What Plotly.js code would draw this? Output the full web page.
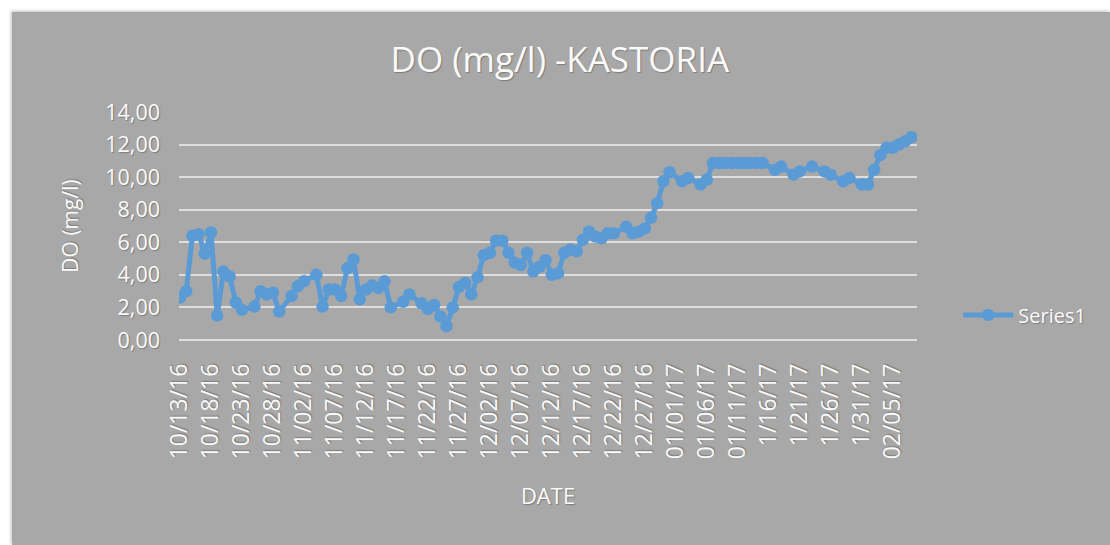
<!DOCTYPE html>
<html>
<head>
<meta charset="utf-8">
<script src="https://cdn.plot.ly/plotly-3.0.1.min.js"></script>
<style>
  html, body { margin: 0; padding: 0; background: #ffffff; width: 1110px; height: 545px; overflow: hidden; }
  #chart { position: absolute; left: 12px; top: 12px; width: 1098px; height: 533px; box-shadow: -1px -1px 3px rgba(0,0,0,0.25); }
</style>
</head>
<body>
<div id="chart"></div>
<script>
// Dates of measurements
const dates = [
  '2016-10-13','2016-10-14','2016-10-15','2016-10-16','2016-10-17','2016-10-18','2016-10-19','2016-10-20',
  '2016-10-21','2016-10-22','2016-10-23','2016-10-25','2016-10-26','2016-10-27','2016-10-28','2016-10-29',
  '2016-10-31','2016-11-01','2016-11-02','2016-11-04','2016-11-05','2016-11-06','2016-11-07','2016-11-08',
  '2016-11-09','2016-11-10','2016-11-11','2016-11-12','2016-11-13','2016-11-14','2016-11-15','2016-11-16',
  '2016-11-18','2016-11-19','2016-11-21','2016-11-22','2016-11-23','2016-11-24','2016-11-25','2016-11-26',
  '2016-11-27','2016-11-28','2016-11-29','2016-11-30','2016-12-01','2016-12-02','2016-12-03','2016-12-04',
  '2016-12-05','2016-12-06','2016-12-07','2016-12-08','2016-12-09','2016-12-10','2016-12-11','2016-12-12',
  '2016-12-13','2016-12-14','2016-12-15','2016-12-16','2016-12-17','2016-12-18','2016-12-19','2016-12-20',
  '2016-12-21','2016-12-22','2016-12-24','2016-12-25','2016-12-26','2016-12-27','2016-12-28','2016-12-29',
  '2016-12-30','2016-12-31','2017-01-02','2017-01-03','2017-01-05','2017-01-06','2017-01-07','2017-01-08',
  '2017-01-09','2017-01-10','2017-01-11','2017-01-12','2017-01-13','2017-01-14','2017-01-15','2017-01-17',
  '2017-01-18','2017-01-20','2017-01-21','2017-01-23','2017-01-25','2017-01-26','2017-01-28','2017-01-29',
  '2017-01-31','2017-02-01','2017-02-02','2017-02-03','2017-02-04','2017-02-05','2017-02-06','2017-02-07',
  '2017-02-08'
];
// DO values (mg/l)
const doValues = [
  2.6, 3.0, 6.4, 6.5, 5.3, 6.6, 1.5, 4.2,
  3.9, 2.3, 1.85, 2.05, 3.0, 2.8, 2.9, 1.75,
  2.7, 3.3, 3.6, 4.0, 2.05, 3.1, 3.1, 2.7,
  4.4, 4.95, 2.5, 3.1, 3.35, 3.2, 3.6, 2.0,
  2.35, 2.8, 2.25, 1.9, 2.15, 1.45, 0.85, 2.0,
  3.25, 3.5, 2.8, 3.85, 5.2, 5.35, 6.1, 6.1,
  5.35, 4.75, 4.6, 5.35, 4.2, 4.5, 4.9, 4.0,
  4.1, 5.35, 5.55, 5.45, 6.15, 6.65, 6.35, 6.25,
  6.55, 6.55, 6.95, 6.55, 6.65, 6.85, 7.5, 8.4,
  9.75, 10.3, 9.75, 9.95, 9.55, 9.85, 10.87, 10.87,
  10.87, 10.87, 10.87, 10.87, 10.87, 10.87, 10.87, 10.45,
  10.65, 10.15, 10.35, 10.65, 10.35, 10.15, 9.75, 9.95,
  9.55, 9.55, 10.45, 11.35, 11.8, 11.8, 12.0, 12.2,
  12.45
];
// Tick positions and labels on the date axis
const tickDates = [
  '2016-10-13','2016-10-18','2016-10-23','2016-10-28','2016-11-02','2016-11-07','2016-11-12','2016-11-17',
  '2016-11-22','2016-11-27','2016-12-02','2016-12-07','2016-12-12','2016-12-17','2016-12-22','2016-12-27',
  '2017-01-01','2017-01-06','2017-01-11','2017-01-16','2017-01-21','2017-01-26','2017-01-31','2017-02-05'
];
const tickLabels = [
  '10/13/16','10/18/16','10/23/16','10/28/16','11/02/16','11/07/16','11/12/16','11/17/16',
  '11/22/16','11/27/16','12/02/16','12/07/16','12/12/16','12/17/16','12/22/16','12/27/16',
  '01/01/17','01/06/17','01/11/17','1/16/17','1/21/17','1/26/17','1/31/17','02/05/17'
];
const seriesName = 'Series1';

const FONT = '"Open Sans", "Noto Sans", sans-serif';
const TXT = '#fafafa';
const SHADOW = '1px 1px 1px rgba(90,90,90,0.55)';

function f(size) { return { family: FONT, size: size, color: TXT, shadow: SHADOW }; }

const trace = {
  x: dates,
  y: doValues,
  type: 'scatter',
  mode: 'lines+markers',
  name: seriesName,
  line: { color: '#5b9bd5', width: 5 },
  marker: { color: '#5b9bd5', size: 12.5 },
  showlegend: true
};

const layout = {
  width: 1098,
  height: 533,
  paper_bgcolor: '#a8a8a8',
  plot_bgcolor: '#a8a8a8',
  separators: ', ',
  margin: { l: 167, r: 193, t: 100, b: 205 },
  font: { family: FONT, color: TXT },
  title: {
    text: 'DO (mg/l) -KASTORIA',
    font: f(35),
    x: 0.516, xref: 'paper', xanchor: 'center',
    y: 1 - 48 / 533, yref: 'container', yanchor: 'middle'
  },
  xaxis: {
    type: 'date',
    range: ['2016-10-12 20:00', '2017-02-08 22:00'],
    tickmode: 'array',
    tickvals: tickDates,
    ticktext: tickLabels,
    tickangle: -90,
    tickfont: f(23),
    showgrid: false,
    zeroline: false,
    showline: false,
    ticks: '',
    ticklabelstandoff: 18,
    title: { text: 'DATE', font: f(22), standoff: 30 }
  },
  yaxis: {
    range: [0, 14],
    dtick: 2,
    tick0: 0,
    tickformat: '.2f',
    tickfont: f(21.5),
    gridcolor: '#dedede',
    gridwidth: 2,
    zeroline: true,
    zerolinecolor: '#dedede',
    zerolinewidth: 2,
    showline: false,
    ticks: '',
    ticklabelstandoff: 18,
    title: { text: 'DO (mg/l)', font: f(21), standoff: 20 }
  },
  legend: {
    x: 1.056, xref: 'paper', xanchor: 'left',
    y: 0.11, yref: 'paper', yanchor: 'middle',
    bgcolor: 'rgba(0,0,0,0)',
    font: f(20),
    itemwidth: 50
  }
};

Plotly.newPlot('chart', [trace], layout, { staticPlot: true, displayModeBar: false });
</script>
</body>
</html>
